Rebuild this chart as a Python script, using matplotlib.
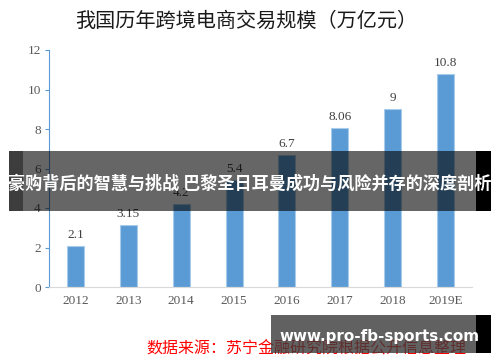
import numpy as np
import matplotlib.pyplot as plt
from matplotlib.patches import Rectangle

years = ['2012', '2013', '2014', '2015', '2016', '2017', '2018', '2019E']
values = [2.1, 3.15, 4.2, 5.4, 6.7, 8.06, 9, 10.8]
value_labels = ['2.1', '3.15', '4.2', '5.4', '6.7', '8.06', '9', '10.8']
yticks = [0, 2, 4, 6, 8, 10, 12]

cjk = ['Noto Sans CJK SC', 'DejaVu Sans']
serif = 'Liberation Serif'

fig = plt.figure(figsize=(5, 3.62), dpi=100)
W, H = 500, 362
ax = fig.add_axes([49 / W, 1 - 287 / H, (472 - 49) / W, (287 - 50) / H])

x = np.arange(len(years))
ax.bar(x, values, width=0.32, color='#5B9BD5', edgecolor='#A9CBEA', linewidth=0.8, zorder=2)
for xi, v, lab in zip(x, values, value_labels):
    ax.text(xi, v + 0.25, lab, ha='center', va='bottom', fontsize=9.5,
            family=serif, color='#404040')

ax.set_xlim(-0.5, len(years) - 0.5)
ax.set_ylim(0, 12)
ax.set_yticks(yticks)
ax.set_xticks(x)
ax.set_xticklabels(years)
for lab in ax.get_xticklabels() + ax.get_yticklabels():
    lab.set_family(serif)
    lab.set_fontsize(9.5)
    lab.set_color('#595959')
ax.tick_params(axis='x', length=0, pad=6)
ax.tick_params(axis='y', length=3, color='#5B9BD5', pad=3)
ax.spines['top'].set_visible(False)
ax.spines['right'].set_visible(False)
ax.spines['left'].set_color('#5B9BD5')
ax.spines['bottom'].set_color('#D9D9D9')

fig.text(246 / W, 1 - 21 / H, '我国历年跨境电商交易规模（万亿元）', ha='center', va='center',
         fontsize=14.5, family=cjk, weight='medium', color='#1a1a1a')

# banner overlay
fig.patches.append(Rectangle((9 / W, 1 - 211 / H), 467 / W, 60 / H, transform=fig.transFigure,
                             facecolor='black', alpha=0.6, zorder=5))
fig.patches.append(Rectangle((476 / W, 1 - 211 / H), 15 / W, 60 / H, transform=fig.transFigure,
                             facecolor='black', zorder=5))
fig.patches.append(Rectangle((9 / W, 1 - 211 / H), 14 / W, 60 / H, transform=fig.transFigure,
                             facecolor='black', alpha=0.4, zorder=5))
fig.text(250 / W, 1 - 184 / H, '豪购背后的智慧与挑战 巴黎圣日耳曼成功与风险并存的深度剖析',
         ha='center', va='center', fontsize=12.3, family=cjk, weight='bold', color='white', zorder=6)

# source line and watermark
fig.text(306 / W, 1 - 349 / H, '数据来源：苏宁金融研究院根据公开信息整理', ha='center', va='center',
         fontsize=11.5, family=cjk, color='#FF0000', style='italic', zorder=4)
fig.patches.append(Rectangle((271 / W, 1 - 353 / H), 205 / W, 38 / H, transform=fig.transFigure,
                             facecolor='#3a3a3a', alpha=0.8, zorder=5))
fig.patches.append(Rectangle((476 / W, 1 - 353 / H), 15 / W, 38 / H, transform=fig.transFigure,
                             facecolor='black', zorder=5))
fig.text(380 / W, 1 - 337 / H, 'www.pro-fb-sports.com', ha='center', va='center',
         fontsize=10.9, family='DejaVu Sans', weight='bold', color='white', zorder=6)

fig.savefig('out.png', dpi=100)
